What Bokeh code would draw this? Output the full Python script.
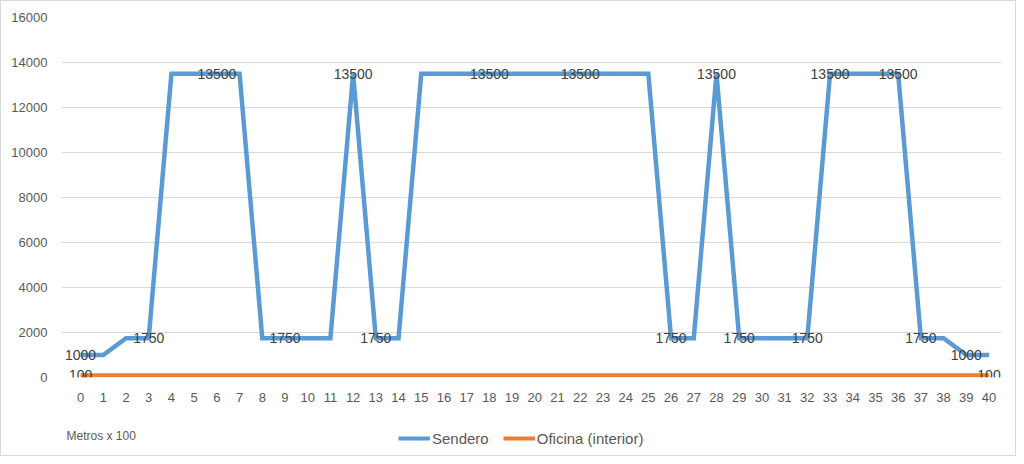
from bokeh.plotting import figure
from bokeh.layouts import column
from bokeh.models import FixedTicker, Legend, LegendItem, ColumnDataSource, Label
from bokeh.core.properties import value
from bokeh.embed import file_html
from bokeh.resources import INLINE

# ---- data ----
metros = list(range(41))
sendero = [1000, 1000, 1750, 1750, 13500, 13500, 13500, 13500, 1750, 1750,
           1750, 1750, 13500, 1750, 1750, 13500, 13500, 13500, 13500, 13500,
           13500, 13500, 13500, 13500, 13500, 13500, 1750, 1750, 13500, 1750,
           1750, 1750, 1750, 13500, 13500, 13500, 13500, 1750, 1750, 1000, 1000]
oficina = [100] * 41
# points of each series that carry a data label
sendero_label_idx = [0, 3, 6, 9, 12, 13, 18, 22, 26, 28, 29, 32, 33, 36, 37, 39]
oficina_label_idx = [0, 40]
y_ticks = [0, 2000, 4000, 6000, 8000, 10000, 12000, 14000, 16000]
x_label = "Metros x 100"
series_names = ["Sendero", "Oficina (interior)"]

BLUE = "#5B9BD5"
ORANGE = "#ED7D31"
FONT = "Liberation Sans"

# ---- main chart ----
p = figure(width=1014, height=404, output_backend="svg", toolbar_location=None,
           x_range=(-0.84, 40.55), y_range=(0, 16000),
           min_border_left=60, min_border_right=14, min_border_top=16, min_border_bottom=28)
p.outline_line_color = None
p.border_fill_color = "white"

p.xgrid.grid_line_color = None
p.ygrid.grid_line_color = "#d9d9d9"
p.ygrid.grid_line_width = 1

p.yaxis.ticker = FixedTicker(ticks=y_ticks)
p.xaxis.ticker = FixedTicker(ticks=metros)
for ax in (p.xaxis, p.yaxis):
    ax.axis_line_color = None
    ax.major_tick_line_color = None
    ax.minor_tick_line_color = None
    ax.major_label_text_color = "#595959"
    ax.major_label_text_font = FONT
    ax.major_label_text_font_size = "13px"
p.yaxis.major_label_standoff = 8
p.xaxis.major_label_standoff = 9

p.line(metros, sendero, line_color=BLUE, line_width=4.5, line_join="miter")
p.line(metros, oficina, line_color=ORANGE, line_width=4)

src_s = ColumnDataSource(dict(x=[metros[i] for i in sendero_label_idx],
                              y=[sendero[i] for i in sendero_label_idx],
                              t=[str(sendero[i]) for i in sendero_label_idx]))
src_o = ColumnDataSource(dict(x=[metros[i] for i in oficina_label_idx],
                              y=[oficina[i] for i in oficina_label_idx],
                              t=[str(oficina[i]) for i in oficina_label_idx]))
for src in (src_s, src_o):
    p.text(x="x", y="y", text="t", source=src, text_align="center",
           text_baseline="middle", text_color="#404040",
           text_font=value(FONT), text_font_size="14px")

# ---- legend strip (its frame is aligned with the chart's frame by the column) ----
q = figure(width=1014, height=50, output_backend="svg", toolbar_location=None,
           x_axis_type=None, y_axis_type=None, min_border=0,
           x_range=(0, 1), y_range=(-2, -1))
q.outline_line_color = None
q.xgrid.grid_line_color = None
q.ygrid.grid_line_color = None
# same series drawn outside this strip's view, so only their legend keys show
k1 = q.line(metros, sendero, line_color=BLUE, line_width=4)
k2 = q.line(metros, oficina, line_color=ORANGE, line_width=4)

legend = Legend(items=[LegendItem(label=series_names[0], renderers=[k1]),
                       LegendItem(label=series_names[1], renderers=[k2])],
                orientation="horizontal", location=(337, 8),
                border_line_color=None, background_fill_alpha=0,
                label_text_font=FONT, label_text_font_size="15px",
                label_text_color="#595959", glyph_width=32, glyph_height=18,
                label_standoff=2, spacing=14, padding=0, margin=0)
q.add_layout(legend)
q.add_layout(Label(x=5, y=20, x_units="screen", y_units="screen", text=x_label,
                   text_font=FONT, text_font_size="12px", text_color="#595959",
                   text_baseline="middle", text_align="left"))

layout = column(p, q, spacing=0, styles={"border": "1px solid #d9d9d9"})

open("out.html", "w").write(file_html(layout, INLINE))
